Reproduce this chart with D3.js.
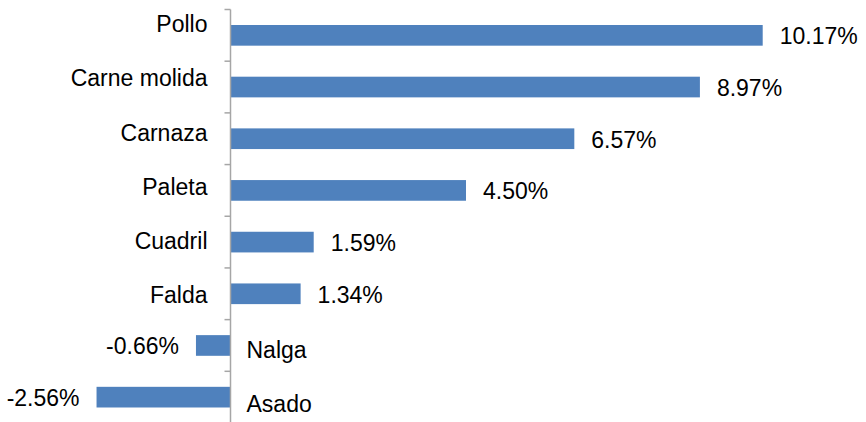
<!DOCTYPE html>
<html>
<head>
<meta charset="utf-8">
<script src="https://cdn.jsdelivr.net/npm/d3@7"></script>
<style>
  body { margin: 0; background: #fff; }
  svg text { font-family: "Liberation Sans", Arial, sans-serif; font-size: 23px; fill: #000; }
</style>
</head>
<body>
<svg id="chart" width="866" height="422"></svg>
<script>
// cuts of meat, price change
var categories = ["Pollo", "Carne molida", "Carnaza", "Paleta", "Cuadril", "Falda", "Nalga", "Asado"]
var values = [10.17, 8.97, 6.57, 4.50, 1.59, 1.34, -0.66, -2.56]
var valueLabels = ["10.17%", "8.97%", "6.57%", "4.50%", "1.59%", "1.34%", "-0.66%", "-2.56%"]

var svg = d3.select("#chart")

var x = d3.scaleLinear().domain([0, 10.17]).range([230.5, 762.7])
var y = d3.scaleBand().domain(categories).range([9.5, 423]).paddingInner(0.6).paddingOuter(0.3)
// category names sit on a slightly wider spacing than the bars
var yLab = d3.scalePoint().domain(categories).range([32, 412])

svg.selectAll("rect.bar")
  .data(values)
  .enter()
  .append("rect")
  .attr("class", "bar")
  .attr("x", function(d) { return x(Math.min(0, d)) })
  .attr("y", function(d, i) { return y(categories[i]) })
  .attr("width", function(d) { return Math.abs(x(d) - x(0)) })
  .attr("height", y.bandwidth())
  .attr("fill", "#4F81BD")

// axis with ticks at the band edges
var edges = categories.map(function(c) { return y(c) - y.step() * y.paddingInner() / 2 })
svg.append("line")
  .attr("x1", x(0)).attr("x2", x(0))
  .attr("y1", edges[0]).attr("y2", 422)
  .attr("stroke", "#a6a6a6").attr("stroke-width", 1.5)
svg.selectAll("line.tick")
  .data(edges)
  .enter()
  .append("line")
  .attr("class", "tick")
  .attr("x1", x(0) - 6).attr("x2", x(0))
  .attr("y1", function(d) { return d }).attr("y2", function(d) { return d })
  .attr("stroke", "#a6a6a6").attr("stroke-width", 1.5)

svg.selectAll("text.cat")
  .data(categories)
  .enter()
  .append("text")
  .attr("class", "cat")
  .attr("x", function(d, i) { return values[i] < 0 ? x(0) + 16 : x(0) - 23 })
  .attr("y", function(d) { return yLab(d) })
  .attr("text-anchor", function(d, i) { return values[i] < 0 ? "start" : "end" })
  .text(function(d) { return d })

svg.selectAll("text.val")
  .data(values)
  .enter()
  .append("text")
  .attr("class", "val")
  .attr("x", function(d) { return d < 0 ? x(d) - 17 : x(d) + 17 })
  .attr("y", function(d, i) { return y(categories[i]) + y.bandwidth() / 2 + 9 })
  .attr("text-anchor", function(d) { return d < 0 ? "end" : "start" })
  .text(function(d, i) { return valueLabels[i] })
</script>
</body>
</html>
